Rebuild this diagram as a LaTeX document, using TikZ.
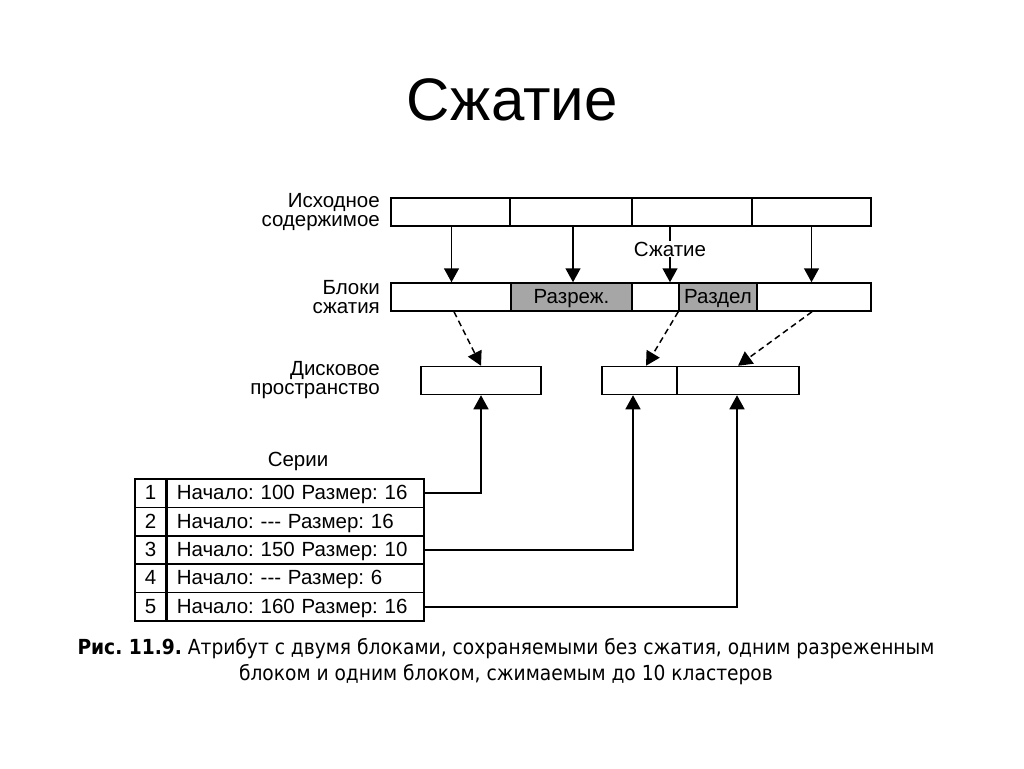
\documentclass[tikz,border=0pt]{standalone}
\usepackage{fontspec}
\setmainfont{Liberation Sans}
\newfontfamily\df{Liberation Sans}
\newfontfamily\cf{DejaVu Sans Condensed}
\usetikzlibrary{arrows.meta,positioning}
\frenchspacing
\begin{document}
\begin{tikzpicture}[x=1pt,y=-1pt,
  every node/.style={font=\df\fontsize{20.5}{20}\selectfont},
  box/.style={draw, line width=1.5pt, inner sep=0pt, minimum height=28pt, text height=14.5pt, text depth=1.5pt},
  shaded/.style={box, fill=black!35},
  cell/.style={draw, line width=1.5pt, inner sep=0pt, minimum height=28.4pt, text height=14.5pt, text depth=1.5pt},
  lbl/.style={align=right, anchor=east, inner sep=0pt},
  arr/.style={line width=1.5pt, -{Triangle[length=14pt,width=15pt]}},
  darr/.style={arr, dash pattern=on 6pt off 4pt},
  link/.style={line width=1.5pt}
]
\useasboundingbox (0,0) rectangle (1024,768);
\fill[white] (0,0) rectangle (1024,768);

\node (title) at (512,100) {\fontsize{60}{64}\selectfont Сжатие};

% labels
\node[lbl] (l1) at (380,212) {Исходное\\[-1pt]содержимое};
\node[lbl] (l2) at (380,297) {Блоки\\[-1pt]сжатия};
\node[lbl] (l3) at (380,380) {Дисковое\\[-1pt]пространство};

% top row
\node[box, minimum width=119pt] (t1) at (450.5,212) {};
\node[box, minimum width=122pt] (t2) at (571,212) {};
\node[box, minimum width=120pt] (t3) at (692,212) {};
\node[box, minimum width=119pt] (t4) at (811.5,212) {};

% compression blocks
\node[box, minimum width=120pt] (b1) at (451,297) {};
\node[shaded, minimum width=121pt] (b2) at (571.5,297) {Разреж.};
\node[box, minimum width=47pt] (b3) at (655.5,297) {};
\node[shaded, minimum width=78pt] (b4) at (718,297) {Раздел};
\node[box, minimum width=114pt] (b5) at (814,297) {};

% disk space
\node[box, minimum width=120pt] (d1) at (481,380.5) {};
\node[box, minimum width=75pt] (d2) at (639.5,380.5) {};
\node[box, minimum width=122pt] (d3) at (738,380.5) {};

% arrows top -> blocks
\draw[arr] ([xshift=1pt]t1.south) -- ([xshift=1pt]t1.south |- b1.north);
\draw[arr] ([xshift=2pt]t2.south) -- ([xshift=2pt]t2.south |- b2.north);
\coordinate (c3) at ([xshift=-22pt]t3.south);
\draw[arr] (c3) -- (c3 |- b3.north);
\node[fill=white, inner sep=1pt] (szh) at (670,249) {Сжатие};
\draw[arr] (t4.south) -- (t4.south |- b5.north);

% dashed arrows blocks -> disk
\draw[darr] ([xshift=3pt]b1.south) -- (d1.north);
\draw[darr] (b4.south west) -- ([xshift=6.5pt]d2.north);
\draw[darr] ([xshift=-2pt]b5.south) -- (d3.north);

% runs table
\node (series) at (298,461) {Серии};
\foreach \i/\t [evaluate=\i as \yy using 479+28.4*(\i-0.5)] in
  {1/Начало: 100 Размер: 16, 2/Начало: --- Размер: 16, 3/Начало: 150 Размер: 10, 4/Начало: --- Размер: 6, 5/Начало: 160 Размер: 16}{
  \node[cell, minimum width=31pt] (n\i) at (150.5,\yy) {\i};
  \node[cell, text width=237pt, inner xsep=10pt, align=left, anchor=west] (r\i) at (166,\yy) {\t};
}

% runs -> disk
\draw[link, -{Triangle[length=14pt,width=15pt]}] (r1.east) -| (d1.south);
\draw[link, -{Triangle[length=14pt,width=15pt]}] (r3.east) -| ([xshift=-6.5pt]d2.south);
\draw[link, -{Triangle[length=14pt,width=15pt]}] (r5.east) -| ([xshift=-1pt]d3.south);

% caption
\node[inner sep=0pt] (cap) at (506,662) {\resizebox{857pt}{!}{\cf\fontsize{16}{20}\selectfont\begin{tabular}{@{}c@{}}\textbf{Рис. 11.9.} Атрибут с двумя блоками, сохраняемыми без сжатия, одним разреженным\\ блоком и одним блоком, сжимаемым до 10 кластеров\end{tabular}}};
\end{tikzpicture}
\end{document}
